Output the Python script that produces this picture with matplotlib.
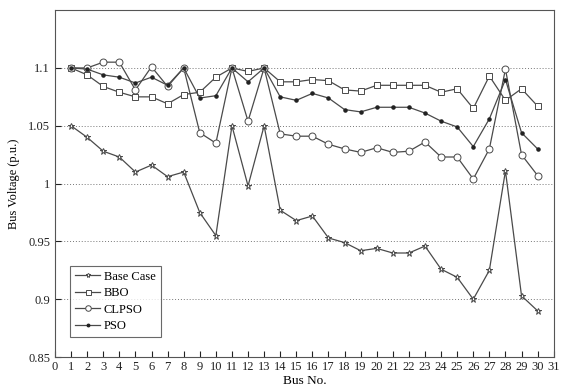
import matplotlib
matplotlib.use("Agg")
import matplotlib.pyplot as plt

plt.rcParams["font.family"] = ["Liberation Serif", "DejaVu Serif"]

buses = list(range(1, 31))

base_case = [1.050, 1.040, 1.028, 1.023, 1.010, 1.016, 1.006, 1.010, 0.975, 0.955,
             1.050, 0.998, 1.050, 0.977, 0.968, 0.972, 0.953, 0.949, 0.942, 0.944,
             0.940, 0.940, 0.946, 0.926, 0.919, 0.900, 0.925, 1.011, 0.903, 0.890]

bbo = [1.100, 1.094, 1.084, 1.079, 1.075, 1.075, 1.069, 1.077, 1.079, 1.092,
       1.100, 1.097, 1.100, 1.088, 1.088, 1.090, 1.089, 1.081, 1.080, 1.085,
       1.085, 1.085, 1.085, 1.079, 1.082, 1.065, 1.093, 1.072, 1.082, 1.067]

clpso = [1.100, 1.100, 1.105, 1.105, 1.081, 1.101, 1.084, 1.100, 1.044, 1.035,
         1.100, 1.054, 1.100, 1.043, 1.041, 1.041, 1.034, 1.030, 1.027, 1.031,
         1.027, 1.028, 1.036, 1.023, 1.023, 1.004, 1.030, 1.099, 1.025, 1.007]

pso = [1.100, 1.099, 1.094, 1.092, 1.087, 1.092, 1.085, 1.100, 1.074, 1.076,
       1.100, 1.088, 1.100, 1.075, 1.072, 1.078, 1.074, 1.064, 1.062, 1.066,
       1.066, 1.066, 1.061, 1.054, 1.049, 1.032, 1.056, 1.090, 1.044, 1.030]

line_col = "#4a4a4a"

fig = plt.figure(figsize=(5.61, 3.89), dpi=100)
ax = fig.add_axes([0.098, 0.082, 0.889, 0.892])

ax.plot(buses, base_case, color=line_col, lw=0.9, marker="*", ms=4.5,
        mfc="white", mec=line_col, mew=0.7, label="Base Case")
ax.plot(buses, bbo, color=line_col, lw=0.9, marker="s", ms=4.5,
        mfc="white", mec=line_col, mew=0.7, label="BBO")
ax.plot(buses, clpso, color=line_col, lw=0.9, marker="o", ms=5,
        mfc="white", mec=line_col, mew=0.7, label="CLPSO")
ax.plot(buses, pso, color=line_col, lw=0.9, marker=".", ms=4.5,
        mfc="#222222", mec="#222222", label="PSO")

ax.set_xlim(0, 31)
ax.set_ylim(0.85, 1.15)
ax.set_xticks(range(0, 32))
ax.set_yticks([0.85, 0.9, 0.95, 1.0, 1.05, 1.1])
ax.set_yticklabels(["0.85", "0.9", "0.95", "1", "1.05", "1.1"])
ax.tick_params(direction="in", length=4, labelsize=9, colors="#222222",
               top=False, right=False)
ax.tick_params(axis="x", pad=3)
ax.yaxis.grid(True, linestyle=(0, (1, 2)), color="#777777", lw=0.7)

for s in ax.spines.values():
    s.set_color("#555555")
    s.set_linewidth(0.8)

ax.set_xlabel("Bus No.", fontsize=9.5, labelpad=1)
ax.set_ylabel("Bus Voltage (p.u.)", fontsize=9, labelpad=6)

leg = ax.legend(loc="lower left", bbox_to_anchor=(0.018, 0.04), fontsize=9,
                frameon=True, fancybox=False, edgecolor="#444444",
                handlelength=2.0, handletextpad=0.3, borderpad=0.4,
                labelspacing=0.35, markerscale=0.8)
leg.get_frame().set_linewidth(0.8)

fig.savefig("out.png", dpi=100)
